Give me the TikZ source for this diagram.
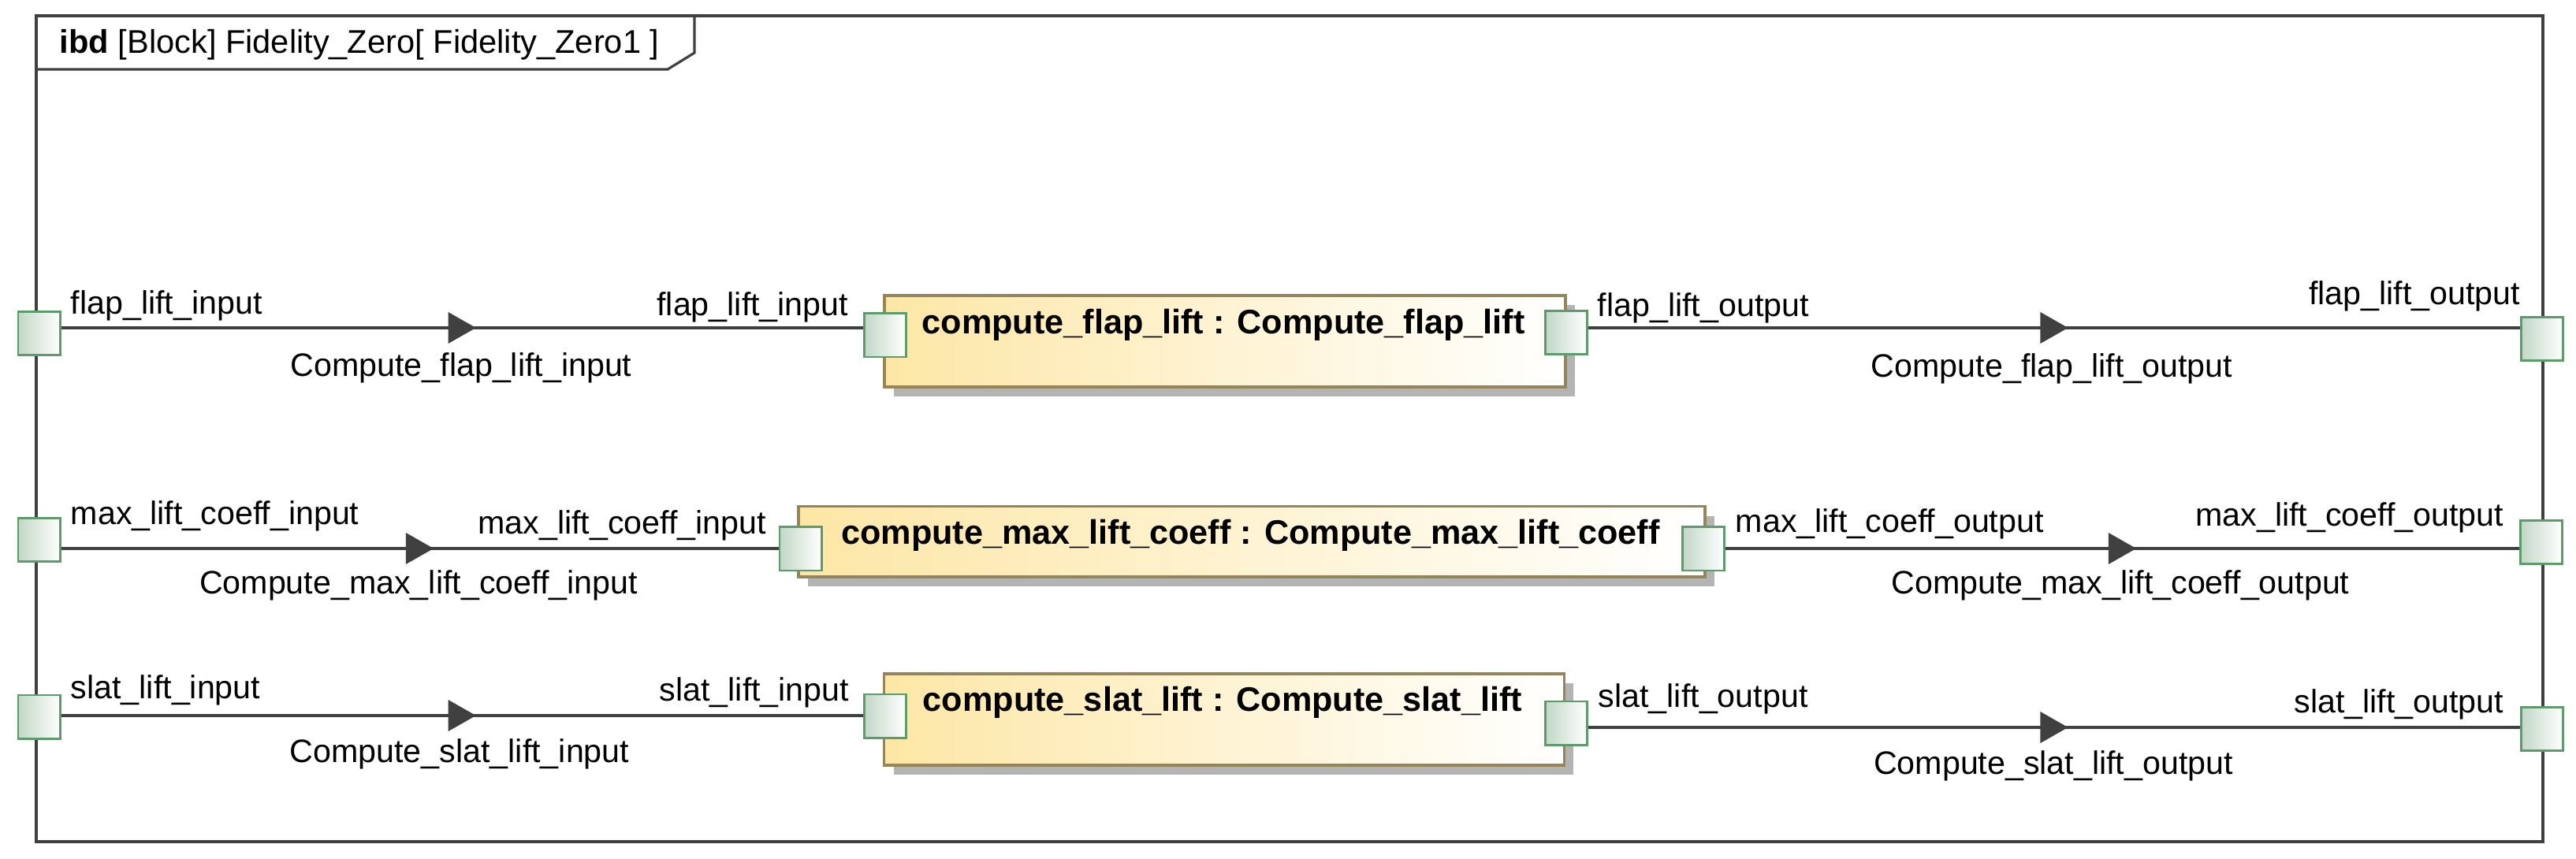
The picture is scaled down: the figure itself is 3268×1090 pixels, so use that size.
\documentclass[tikz,border=0pt]{standalone}
\usepackage{fontspec}
\setmainfont{Liberation Sans}
\usetikzlibrary{decorations.markings,shadows}
\definecolor{linegray}{HTML}{404040}
\definecolor{portgreen}{HTML}{5E9B6A}
\definecolor{portfill}{HTML}{C2D7C6}
\definecolor{blockborder}{HTML}{958558}
\definecolor{blockyellow}{HTML}{FDE7A6}
\definecolor{shadowgray}{HTML}{B4B4B4}
\begin{document}
\begin{tikzpicture}[x=0.25pt,y=-0.25pt,
  lbl/.style={inner sep=0pt, font=\fontsize{10.3}{12}\selectfont},
  ttl/.style={inner sep=0pt, font=\fontsize{10.8}{13}\selectfont\bfseries},
  port/.style={draw=portgreen, line width=0.7pt, minimum width=13.3pt, minimum height=13.8pt, inner sep=0pt, left color=portfill, right color=white},
  block/.style={draw=blockborder, line width=0.8pt, inner sep=0pt, left color=blockyellow, right color=white,
    drop shadow={shadow xshift=3pt, shadow yshift=-3pt, fill=shadowgray, opacity=1}},
  conn/.style={draw=linegray, line width=0.9pt, postaction={decorate},
    decoration={markings, mark=at position 0.5 with {\fill[linegray] (-4.4pt,-5pt) -- (4.4pt,0pt) -- (-4.4pt,5pt) -- cycle;}}},
  frm/.style={draw=linegray, line width=0.8pt}]

\useasboundingbox (0,0) rectangle (3268,1090);

% frame
\draw[frm] (46,20) rectangle (3226,1068);
\draw[frm] (46,88) -- (847,88) -- (881,67) -- (881,20);
\node[anchor=west, inner sep=0pt, font=\fontsize{10.4}{12}\selectfont] (hdr) at (75,57)
  {\textbf{ibd} [Block] Fidelity\_Zero[ Fidelity\_Zero1 ]};

% blocks
\node[block, minimum width=216pt, minimum height=29pt] (b1) at (1554,433) {};
\node[block, minimum width=287.5pt, minimum height=22.3pt] (b2) at (1588,687.5) {};
\node[block, minimum width=215.7pt, minimum height=29pt] (b3) at (1553,913) {};

\node[ttl] (t1) at (1552,412) {compute\_flap\_lift : Compute\_flap\_lift};
\node[ttl] (t2) at (1586.5,679) {compute\_max\_lift\_coeff : Compute\_max\_lift\_coeff};
\node[ttl] (t3) at (1551,891.5) {compute\_slat\_lift : Compute\_slat\_lift};

% ports
\node[port] (p1l) at (49.5,423) {};
\node[port] (b1l) at (1123,425.5) {};
\node[port] (b1r) at (1987,422) {};
\node[port] (p1r) at (3225,430) {};
\node[port] (p2l) at (49.5,685) {};
\node[port] (b2l) at (1015.5,696.5) {};
\node[port] (b2r) at (2161,696.5) {};
\node[port] (p2r) at (3224,688) {};
\node[port] (p3l) at (49.5,909.5) {};
\node[port] (b3l) at (1123,908.5) {};
\node[port] (b3r) at (1987,917.5) {};
\node[port] (p3r) at (3225,925) {};

% connector rows
\coordinate (r1) at (0,416);
\coordinate (r2) at (0,696);
\coordinate (r3a) at (0,908);
\coordinate (r3b) at (0,923);

\draw[conn] (p1l.east |- r1) -- (b1l.west |- r1);
\draw[conn] (b1r.east |- r1) -- (p1r.west |- r1);
\draw[conn] (p2l.east |- r2) -- (b2l.west |- r2);
\draw[conn] (b2r.east |- r2) -- (p2r.west |- r2);
\draw[conn] (p3l.east |- r3a) -- (b3l.west |- r3a);
\draw[conn] (b3r.east |- r3b) -- (p3r.west |- r3b);

% labels row 1
\node[lbl, anchor=west] (l1a) at (89,388) {flap\_lift\_input};
\node[lbl] (l1b) at (585,467) {Compute\_flap\_lift\_input};
\node[lbl, anchor=east] (l1c) at (1077,390) {flap\_lift\_input};
\node[lbl, anchor=west] (l1d) at (2026,391) {flap\_lift\_output};
\node[lbl] (l1e) at (2603,468) {Compute\_flap\_lift\_output};
\node[lbl, anchor=east] (l1f) at (3198,376) {flap\_lift\_output};

% labels row 2
\node[lbl, anchor=west] (l2a) at (89,655) {max\_lift\_coeff\_input};
\node[lbl] (l2b) at (531,743) {Compute\_max\_lift\_coeff\_input};
\node[lbl, anchor=east] (l2c) at (973,667) {max\_lift\_coeff\_input};
\node[lbl, anchor=west] (l2d) at (2201,665) {max\_lift\_coeff\_output};
\node[lbl] (l2e) at (2690,743) {Compute\_max\_lift\_coeff\_output};
\node[lbl, anchor=east] (l2f) at (3177,657) {max\_lift\_coeff\_output};

% labels row 3
\node[lbl, anchor=west] (l3a) at (89,876) {slat\_lift\_input};
\node[lbl] (l3b) at (583,957) {Compute\_slat\_lift\_input};
\node[lbl, anchor=east] (l3c) at (1078,879) {slat\_lift\_input};
\node[lbl, anchor=west] (l3d) at (2027,887) {slat\_lift\_output};
\node[lbl] (l3e) at (2605,972) {Compute\_slat\_lift\_output};
\node[lbl, anchor=east] (l3f) at (3177,894) {slat\_lift\_output};
\end{tikzpicture}
\end{document}
